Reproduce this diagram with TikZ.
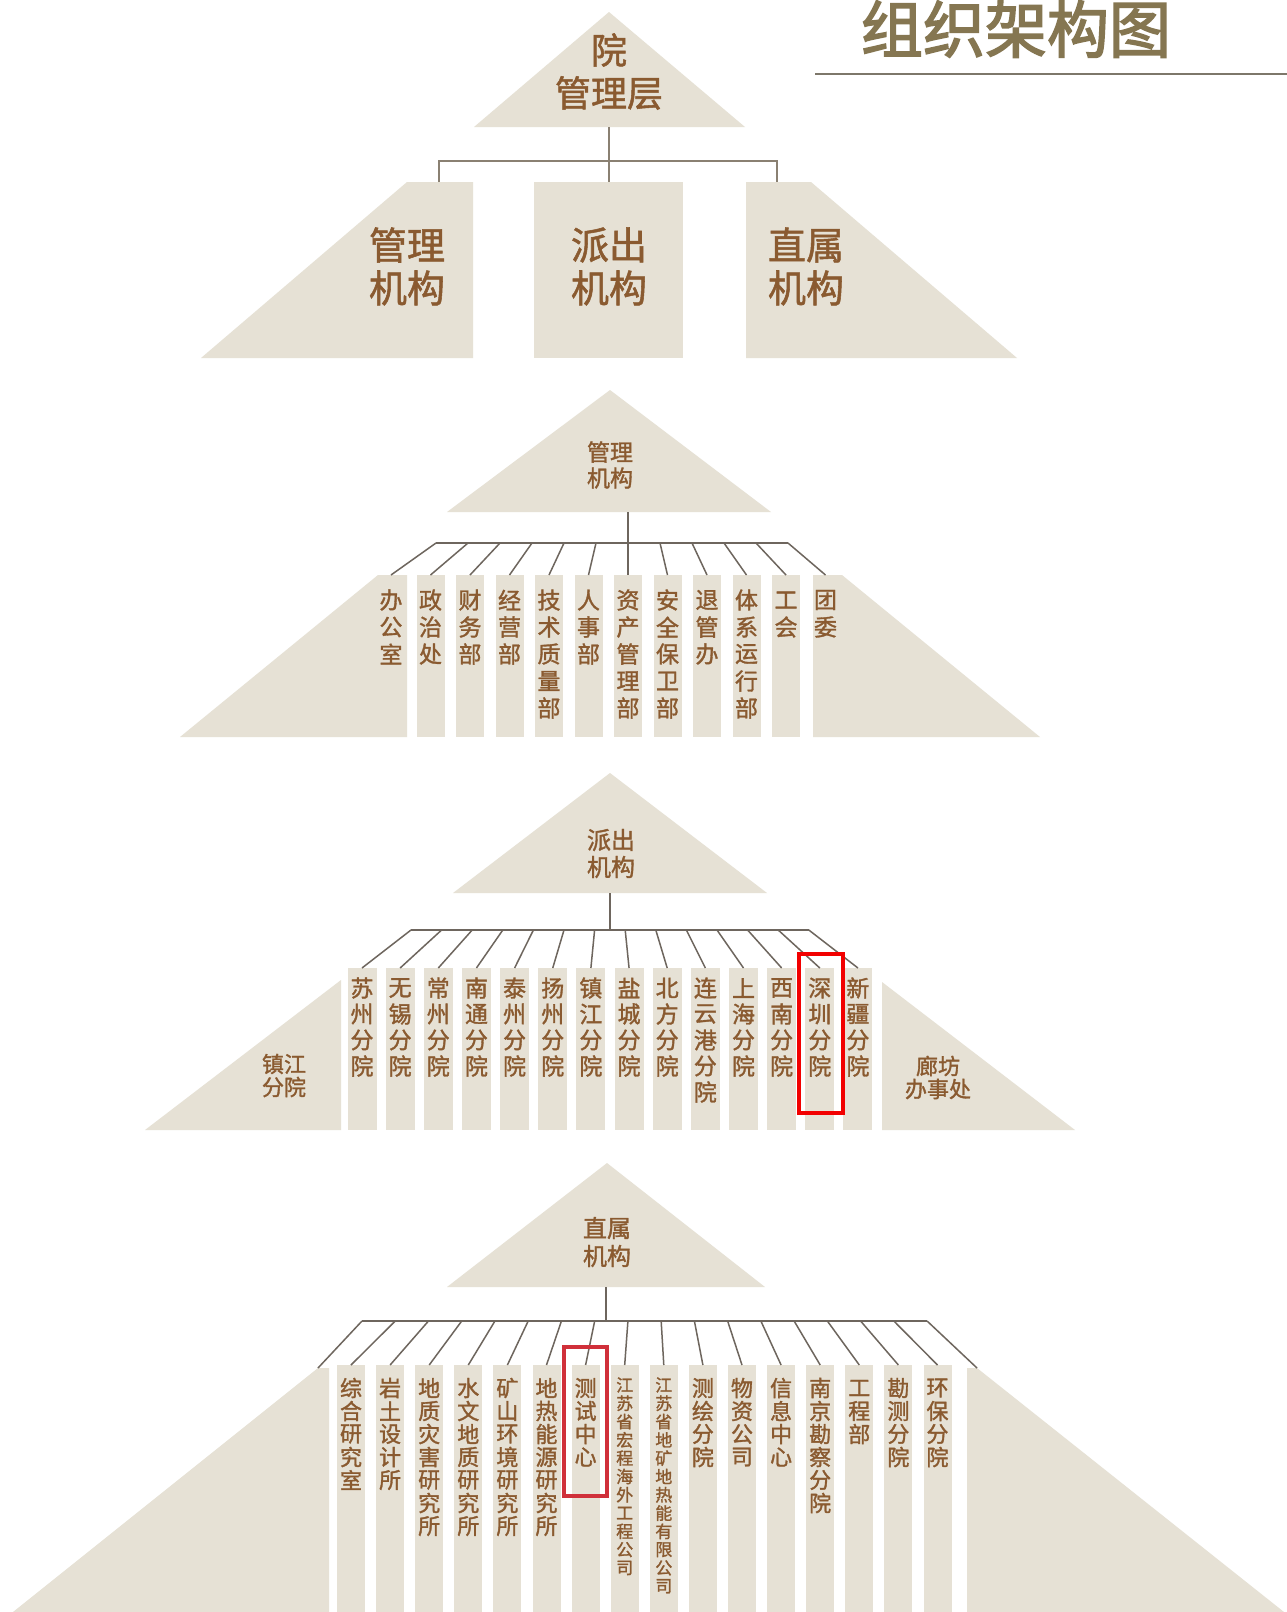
\documentclass[tikz,border=0pt]{standalone}
\usepackage{fontspec}
\newfontfamily\cjk[FakeBold=1.4]{Noto Sans CJK SC}
\newfontfamily\cjktitle[FakeBold=2.5]{Noto Sans CJK SC}
\definecolor{beige}{HTML}{E6E1D5}
\definecolor{txt}{HTML}{8A5A30}
\definecolor{ttl}{HTML}{857651}
\definecolor{ln}{HTML}{6E665E}
\definecolor{lnA}{HTML}{8A8072}
\definecolor{ulin}{HTML}{7D776A}
\definecolor{redA}{HTML}{F20000}
\definecolor{redB}{HTML}{D0303A}
\newcommand\stackend{}
\newcommand\stackone[1]{\vbox to \cpitch{\vss\hbox to \cwid{\hss#1\hss}\vss}}
\newcommand\stackloop[1]{\ifx#1\stackend\else\stackone{#1}\expandafter\stackloop\fi}
\newcommand\vt[3]{\fontsize{#1}{#1}\selectfont\def\cpitch{#2pt}\def\cwid{#1pt}\vbox{\offinterlineskip\expandafter\stackloop#3\stackend}}
\tikzset{
  shp/.style={fill=beige, draw=none},
  conn/.style={draw=ln, line width=1.5pt},
  connA/.style={draw=lnA, line width=2.4pt},
  lbl/.style={inner sep=0pt, outer sep=0pt, text=txt},
  vlbl/.style={inner sep=0pt, outer sep=0pt, anchor=north, font=\cjk, text=txt},
}
\begin{document}
\begin{tikzpicture}[x=1pt,y=-1pt]
\useasboundingbox (0,0) rectangle (1287,1612);
\fill[white] (0,0) rectangle (1287,1612);

% ---------- title ----------
\node[inner sep=0pt, text=ttl, font=\cjktitle\fontsize{62}{62}\selectfont] (title) at (1016,29) {组织架构图};
\coordinate (ulA) at (815,74);
\coordinate (ulB) at (1287,74);
\draw[ulin, line width=2.5pt] (ulA) -- (ulB);

% ---------- section 1 ----------
\fill[shp] (609,12) -- (745,127) -- (474,127) -- cycle;
\node[lbl, font=\cjk\fontsize{36}{36}\selectfont] (yuan) at (609,50) {院};
\node[lbl, font=\cjk\fontsize{36}{36}\selectfont] (glc) at (609,93) {管理层};
\fill[shp] (201,358) -- (407,182) -- (473,182) -- (473,358) -- cycle;
\fill[shp] (534,182) rectangle (683,358);
\fill[shp] (746,182) -- (811,182) -- (1017,358) -- (746,358) -- cycle;
\node[lbl, font=\cjk\fontsize{38}{38}\selectfont] (gl1) at (407,245) {管理};
\node[lbl, font=\cjk\fontsize{38}{38}\selectfont] (gl2) at (407,288) {机构};
\node[lbl, font=\cjk\fontsize{38}{38}\selectfont] (pc1) at (609,245) {派出};
\node[lbl, font=\cjk\fontsize{38}{38}\selectfont] (pc2) at (609,288) {机构};
\node[lbl, font=\cjk\fontsize{38}{38}\selectfont] (zs1) at (806,245) {直属};
\node[lbl, font=\cjk\fontsize{38}{38}\selectfont] (zs2) at (806,288) {机构};
\coordinate (s1top) at (609,127);
\coordinate (s1mid) at (609,182);
\coordinate (s1L) at (439,161);
\coordinate (s1R) at (777,161);
\coordinate (s1Le) at (439,182);
\coordinate (s1Re) at (777,182);
\draw[connA] (s1top) -- (s1mid);
\draw[connA] (s1Le) -- (s1L) -- (s1R) -- (s1Re);

% ---------- section 2 : 管理机构 ----------
\fill[shp] (610,390) -- (771,512) -- (447,512) -- cycle;
\node[lbl, font=\cjk\fontsize{23}{23}\selectfont] (s2h1) at (610,452) {管理};
\node[lbl, font=\cjk\fontsize{23}{23}\selectfont] (s2h2) at (610,478) {机构};
\fill[shp] (180,737) -- (378,575) -- (407,575) -- (407,737) -- cycle;
\fill[shp] (813,575) -- (842,575) -- (1040,737) -- (813,737) -- cycle;
\foreach \k in {1,...,10}{
  \fill[shp] ({391+39.5*\k-14},575) rectangle ({391+39.5*\k+14},737);
}
\foreach \k/\t in {0/办公室,1/政治处,2/财务部,3/经营部,4/技术质量部,5/人事部,6/资产管理部,7/安全保卫部,8/退管办,9/体系运行部,10/工会,11/团委}{
  \node[vlbl] (s2l\k) at ({391+39.5*\k},586.5) {\vt{23}{27}{\t}};
  \coordinate (s2a\k) at ({436+32*\k},543);
  \coordinate (s2b\k) at ({391+39.5*\k},575);
  \draw[conn] (s2a\k) -- (s2b\k);
}
\coordinate (s2top) at (628,512);
\coordinate (s2bar) at (628,543);
\draw[conn] (s2top) -- (s2bar);
\draw[conn] (s2a0) -- (s2a11);

% ---------- section 3 : 派出机构 ----------
\fill[shp] (610,773) -- (767,893) -- (453,893) -- cycle;
\node[lbl, font=\cjk\fontsize{24}{24}\selectfont] (s3h1) at (611,840) {派出};
\node[lbl, font=\cjk\fontsize{24}{24}\selectfont] (s3h2) at (611,867) {机构};
\fill[shp] (145,1130) -- (341,980) -- (341,1130) -- cycle;
\fill[shp] (882,982) -- (1075,1130) -- (882,1130) -- cycle;
\node[lbl, font=\cjk\fontsize{22}{22}\selectfont] (zj1) at (284,1064) {镇江};
\node[lbl, font=\cjk\fontsize{22}{22}\selectfont] (zj2) at (284,1087) {分院};
\node[lbl, font=\cjk\fontsize{22}{22}\selectfont] (lf1) at (938,1066) {廊坊};
\node[lbl, font=\cjk\fontsize{22}{22}\selectfont] (lf2) at (938,1089) {办事处};
\foreach \k/\t in {0/苏州分院,1/无锡分院,2/常州分院,3/南通分院,4/泰州分院,5/扬州分院,6/镇江分院,7/盐城分院,8/北方分院,9/连云港分院,10/上海分院,11/西南分院,12/深圳分院,13/新疆分院}{
  \fill[shp] ({362+38.15*\k-14.5},968) rectangle ({362+38.15*\k+14.5},1130);
  \node[vlbl] (s3l\k) at ({362+38.15*\k},975) {\vt{23}{26}{\t}};
  \coordinate (s3a\k) at ({411+30.6*\k},930);
  \coordinate (s3b\k) at ({362+38.15*\k},968);
  \draw[conn] (s3a\k) -- (s3b\k);
}
\coordinate (s3top) at (610,893);
\coordinate (s3bar) at (610,930);
\draw[conn] (s3top) -- (s3bar);
\draw[conn] (s3a0) -- (s3a13);
\draw[redA, line width=4.5pt] (799,954) rectangle (843,1113);

% ---------- section 4 : 直属机构 ----------
\fill[shp] (607,1163) -- (765,1287) -- (447,1287) -- cycle;
\node[lbl, font=\cjk\fontsize{24}{24}\selectfont] (s4h1) at (607,1228) {直属};
\node[lbl, font=\cjk\fontsize{24}{24}\selectfont] (s4h2) at (607,1256) {机构};
\fill[shp] (13,1612) -- (318,1368) -- (329,1368) -- (329,1612) -- cycle;
\fill[shp] (967,1368) -- (977,1368) -- (1284,1612) -- (967,1612) -- cycle;
\foreach \k in {0,...,15}{
  \fill[shp] ({351+39.1*\k-14},1365) rectangle ({351+39.1*\k+14},1612);
}
\foreach \k/\t in {0/综合研究室,1/岩土设计所,2/地质灾害研究所,3/水文地质研究所,4/矿山环境研究所,5/地热能源研究所,6/测试中心,9/测绘分院,10/物资公司,11/信息中心,12/南京勘察分院,13/工程部,14/勘测分院,15/环保分院}{
  \node[vlbl] (s4l\k) at ({351+39.1*\k},1376.5) {\vt{22}{23}{\t}};
}
\foreach \k/\t in {7/江苏省宏程海外工程公司,8/江苏省地矿地热能有限公司}{
  \node[vlbl] (s4l\k) at ({351+39.1*\k},1375.8) {\vt{17}{18.3}{\t}};
}
\coordinate (s4b0) at (318,1368);
\foreach \j in {1,...,16}{
  \coordinate (s4b\j) at ({351+39.1*(\j-1)},1365);
}
\coordinate (s4b17) at (977,1368);
\foreach \j in {0,...,17}{
  \coordinate (s4a\j) at ({362+33.24*\j},1321);
  \draw[conn] (s4a\j) -- (s4b\j);
}
\coordinate (s4top) at (606,1287);
\coordinate (s4bar) at (606,1321);
\draw[conn] (s4top) -- (s4bar);
\draw[conn] (s4a0) -- (s4a17);
\draw[redB, line width=4pt] (564,1347) rectangle (607,1496);
\end{tikzpicture}
\end{document}
